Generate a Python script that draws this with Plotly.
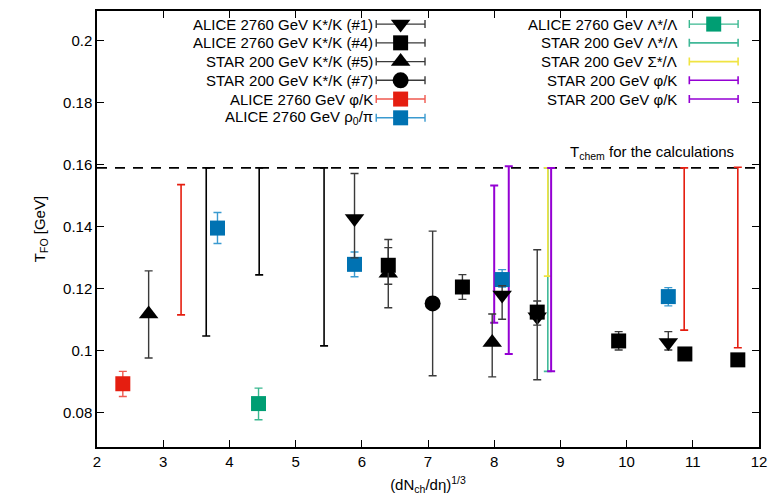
import plotly.graph_objects as go

# ---------------- data ----------------
T_chem = 0.159

# ALICE 2760 GeV K*/K (#1)  (down triangles)
k1_x = [5.89, 8.12, 8.65, 10.63]
k1_y = [0.1427, 0.118, 0.111, 0.1027]
k1_hi = [0.1572, 0.121, 0.1326, 0.1062]
k1_lo = [0.130, 0.1102, 0.0907, 0.1003]

# ALICE 2760 GeV K*/K (#4)  (squares)
k4_x = [6.40, 7.52, 8.65, 9.88, 10.88, 11.68]
k4_y = [0.1276, 0.1206, 0.1125, 0.1032, 0.0990, 0.0971]
k4_hi = [0.1333, 0.1246, 0.1161, 0.1062, 0.0990, 0.0971]
k4_lo = [0.1215, 0.1166, 0.1083, 0.1003, 0.0990, 0.0971]

# STAR 200 GeV K*/K (#5)  (up triangles)
k5_x = [2.78, 6.40, 7.97]
k5_y = [0.1119, 0.1250, 0.1027]
k5_hi = [0.1258, 0.1359, 0.1119]
k5_lo = [0.0977, 0.1139, 0.0916]

# STAR 200 GeV K*/K (#7)  (circle)
k7_x = [7.07]
k7_y = [0.1153]
k7_hi = [0.1386]
k7_lo = [0.0920]

# K*/K ranges (no marker)
kr_x = [3.65, 4.45, 5.43]
kr_lo = [0.1048, 0.1245, 0.1016]
kr_hi = [0.159, 0.159, 0.159]

# ALICE 2760 GeV phi/K
phi_x = [2.39]
phi_y = [0.0894]
phi_hi = [0.0934]
phi_lo = [0.0853]
phir_x = [3.27, 10.87, 11.68]
phir_lo = [0.1116, 0.1067, 0.1010]
phir_hi = [0.1536, 0.1590, 0.1592]

# ALICE 2760 GeV rho0/pi
rho_x = [3.82, 5.89, 8.12, 10.63]
rho_y = [0.1396, 0.1279, 0.1230, 0.1175]
rho_hi = [0.1446, 0.1319, 0.1262, 0.1204]
rho_lo = [0.1346, 0.1239, 0.1206, 0.1145]

# ALICE 2760 GeV Lambda*/Lambda
lam_x = [4.44]
lam_y = [0.0830]
lam_hi = [0.0880]
lam_lo = [0.0778]

# STAR 200 GeV Lambda*/Lambda (range)
slam_x = [8.81]
slam_lo = [0.0934]
slam_hi = [0.159]

# STAR 200 GeV Sigma*/Lambda (range)
ssig_x = [8.81]
ssig_lo = [0.1241]
ssig_hi = [0.159]

# STAR 200 GeV phi/K (two sets of ranges)
sphi1_x = [8.00, 8.22]
sphi1_lo = [0.1091, 0.0990]
sphi1_hi = [0.1533, 0.1595]
sphi2_x = [8.86]
sphi2_lo = [0.0934]
sphi2_hi = [0.159]

x_ticks = [2, 3, 4, 5, 6, 7, 8, 9, 10, 11, 12]
y_ticks = [0.08, 0.1, 0.12, 0.14, 0.16, 0.18, 0.2]
y_ticktext = ["0.08", "0.1", "0.12", "0.14", "0.16", "0.18", "0.2"]

# ---------------- style ----------------
BLACK = "#000000"
BAR_BLACK = "#3a3a3a"
RED = "#e51e10"
BLUE = "#0072b2"
GREEN = "#009e73"
LGREEN = "#40b898"
YELLOW = "#f0e442"
PURPLE = "#9400d3"
FONT = "Liberation Sans, Arial, sans-serif"

X_RANGE = [2, 12]
Y_RANGE = [0.069, 0.2096]

fig = go.Figure()


def pts(x, y, hi, lo, symbol, color, barcolor, size):
    fig.add_trace(go.Scatter(
        x=x, y=y, mode="markers",
        marker=dict(symbol=symbol, size=size, color=color, line=dict(width=0)),
        error_y=dict(type="data", symmetric=False,
                     array=[h - v for h, v in zip(hi, y)],
                     arrayminus=[v - l for v, l in zip(y, lo)],
                     color=barcolor, thickness=1.4, width=4),
        showlegend=False, cliponaxis=False))


def ranges(x, lo, hi, color, thick=1.6):
    fig.add_trace(go.Scatter(
        x=x, y=hi, mode="markers",
        marker=dict(size=1, color="rgba(0,0,0,0)"),
        error_y=dict(type="data", symmetric=False,
                     array=[0] * len(x),
                     arrayminus=[h - l for h, l in zip(hi, lo)],
                     color=color, thickness=thick, width=4),
        showlegend=False, cliponaxis=False))


# T_chem line
fig.add_trace(go.Scatter(x=X_RANGE, y=[T_chem, T_chem], mode="lines",
                         line=dict(color=BLACK, width=1.6, dash="10px,8px"),
                         showlegend=False, hoverinfo="skip"))

ranges(kr_x, kr_lo, kr_hi, BLACK)
ranges(phir_x, phir_lo, phir_hi, RED)
ranges(slam_x, slam_lo, slam_hi, LGREEN)
ranges(ssig_x, ssig_lo, ssig_hi, YELLOW)
ranges(sphi1_x, sphi1_lo, sphi1_hi, PURPLE, 2)
ranges(sphi2_x, sphi2_lo, sphi2_hi, PURPLE, 2)

pts(phi_x, phi_y, phi_hi, phi_lo, "square", RED, "#f05a50", 15)
pts(rho_x, rho_y, rho_hi, rho_lo, "square", BLUE, "#3a9ad0", 15)
pts(lam_x, lam_y, lam_hi, lam_lo, "square", GREEN, "#3ab890", 15)
pts(k5_x, k5_y, k5_hi, k5_lo, "triangle-up", BLACK, BAR_BLACK, 17)
pts(k7_x, k7_y, k7_hi, k7_lo, "circle", BLACK, BAR_BLACK, 16)
pts(k1_x, k1_y, k1_hi, k1_lo, "triangle-down", BLACK, BAR_BLACK, 17)
pts(k4_x, k4_y, k4_hi, k4_lo, "square", BLACK, BAR_BLACK, 15)

# ---------------- gnuplot-style key ----------------
left_rows = [
    ("ALICE 2760 GeV K*/K (#1)", "triangle-down", BLACK, BAR_BLACK, 17),
    ("ALICE 2760 GeV K*/K (#4)", "square", BLACK, BAR_BLACK, 15),
    ("STAR 200 GeV K*/K (#5)", "triangle-up", BLACK, BAR_BLACK, 17),
    ("STAR 200 GeV K*/K (#7)", "circle", BLACK, BAR_BLACK, 16),
    ("ALICE 2760 GeV φ/K", "square", RED, "#f05a50", 15),
    ("ALICE 2760 GeV ρ<sub>0</sub>/π", "square", BLUE, "#3a9ad0", 15),
]
right_rows = [
    ("ALICE 2760 GeV Λ*/Λ", "square", GREEN, "#3ab890", 15),
    ("STAR 200 GeV Λ*/Λ", None, None, LGREEN, 0),
    ("STAR 200 GeV Σ*/Λ", None, None, YELLOW, 0),
    ("STAR 200 GeV φ/K", None, None, PURPLE, 0),
    ("STAR 200 GeV φ/K", None, None, PURPLE, 0),
]
row_frac = [0.970, 0.927, 0.884, 0.841, 0.798, 0.755]
PW = 665.0


def fx(f):
    return X_RANGE[0] + f * (X_RANGE[1] - X_RANGE[0])


def fy(f):
    return Y_RANGE[0] + f * (Y_RANGE[1] - Y_RANGE[0])


half = 24.5 / PW * (X_RANGE[1] - X_RANGE[0])
cols = [(left_rows, (402 - 97) / PW, (376 - 97) / PW),
        (right_rows, (716.5 - 97) / PW, (682 - 97) / PW)]
annotations = []
for rows, cx, tx in cols:
    for (label, sym, mcol, bcol, size), yf in zip(rows, row_frac):
        fig.add_trace(go.Scatter(
            x=[fx(cx)], y=[fy(yf)],
            mode="markers",
            marker=dict(symbol=sym or "square", size=size if sym else 1,
                        color=mcol if sym else "rgba(0,0,0,0)", line=dict(width=0)),
            error_x=dict(type="constant", value=half, color=bcol,
                         thickness=1.6 if sym is None else 1.4, width=4),
            showlegend=False, cliponaxis=False, hoverinfo="skip"))
        annotations.append(dict(xref="paper", yref="paper", x=tx, y=yf, text=label,
                                showarrow=False, xanchor="right", yanchor="middle",
                                font=dict(family=FONT, size=15, color=BLACK)))

annotations.append(dict(xref="x", yref="y", x=11.65, y=T_chem,
                        text="T<sub>chem</sub> for the calculations",
                        showarrow=False, xanchor="right", yanchor="bottom", yshift=4,
                        font=dict(family=FONT, size=15, color=BLACK)))

axis_common = dict(showline=True, linecolor=BLACK, linewidth=1.5, mirror="ticks",
                   ticks="inside", ticklen=7, tickcolor=BLACK, tickwidth=1,
                   showgrid=False, zeroline=False,
                   tickfont=dict(family=FONT, size=15, color=BLACK))

fig.update_layout(
    width=776, height=500,
    margin=dict(l=97, r=14, t=9, b=53),
    paper_bgcolor="white", plot_bgcolor="white",
    font=dict(family=FONT, size=15, color=BLACK),
    xaxis=dict(range=X_RANGE, tickvals=x_ticks, ticktext=[str(v) for v in x_ticks],
               title=dict(text="(dN<sub>ch</sub>/dη)<sup>1/3</sup>", standoff=11,
                          font=dict(family=FONT, size=15)),
               **axis_common),
    yaxis=dict(range=Y_RANGE, tickvals=y_ticks, ticktext=y_ticktext,
               title=dict(text="T<sub>FO</sub> [GeV]", standoff=14,
                          font=dict(family=FONT, size=15)),
               **axis_common),
    annotations=annotations,
    showlegend=False,
)

fig.write_html("out.html")
